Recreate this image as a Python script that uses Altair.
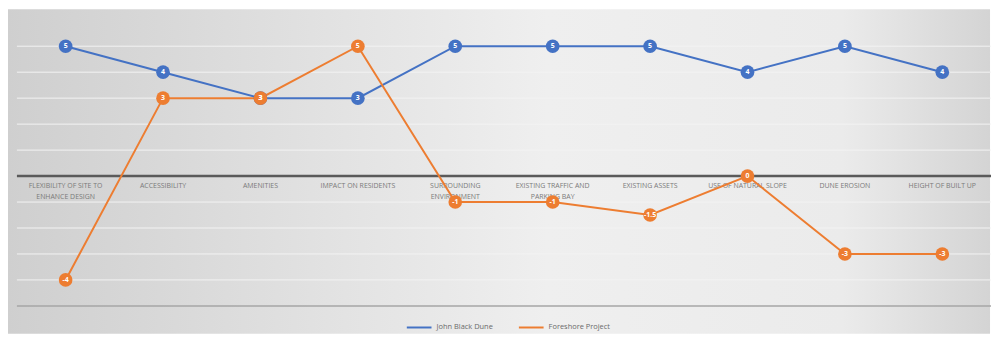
import altair as alt
import pandas as pd

categories = [
    "FLEXIBILITY OF SITE TO|ENHANCE DESIGN",
    "ACCESSIBILITY",
    "AMENITIES",
    "IMPACT ON RESIDENTS",
    "SURROUNDING|ENVIRONMENT",
    "EXISTING TRAFFIC AND|PARKING BAY",
    "EXISTING ASSETS",
    "USE OF NATURAL SLOPE",
    "DUNE EROSION",
    "HEIGHT OF BUILT UP",
]
series_names = ["John Black Dune", "Foreshore Project"]
john_black = [5, 4, 3, 3, 5, 5, 5, 4, 5, 4]
foreshore = [-4, 3, 3, 5, -1, -1, -1.5, 0, -3, -3]
colors = ["#4472c4", "#ed7d31"]
grid_ticks = [-4, -3, -2, -1, 1, 2, 3, 4, 5]

rows = []
for i, c in enumerate(categories):
    rows.append({"cat": c, "series": series_names[0], "value": john_black[i], "order": 0})
for i, c in enumerate(categories):
    rows.append({"cat": c, "series": series_names[1], "value": foreshore[i], "order": 1})
df = pd.DataFrame(rows)
df["label"] = df["value"].map(lambda v: f"{v:g}")

W, H = 982, 288
PAD_L, PAD_T, PAD_R, PAD_B = 9, 11, 1, 31
ymin, ymax = -5, 6
yscale = alt.Scale(domain=[ymin, ymax], nice=False, zero=False)
xscale = alt.Scale(type="point", padding=0.5, domain=categories)

x_enc = alt.X("cat:N", sort=categories, scale=xscale, axis=None)
y_enc = alt.Y("value:Q", scale=yscale, axis=None)
color_enc = alt.Color(
    "series:N",
    sort=series_names,
    scale=alt.Scale(domain=series_names, range=colors),
    legend=alt.Legend(
        title=None,
        orient="none",
        legendX=392,
        legendY=296,
        direction="horizontal",
        symbolType="stroke",
        symbolStrokeWidth=2,
        symbolSize=620,
        labelFontSize=7.5,
        labelColor="#6a6a6a",
        labelFont="Open Sans",
        columnPadding=22,
    ),
)

# background panel (decoration) with horizontal gradient
bg = alt.Chart(pd.DataFrame({"a": [0]})).mark_rect(
    color=alt.LinearGradient(
        gradient="linear",
        x1=0, y1=0, x2=1, y2=0,
        stops=[
            alt.GradientStop(offset=0, color="#cfcfcf"),
            alt.GradientStop(offset=0.55, color="#efefef"),
            alt.GradientStop(offset=0.85, color="#ebebeb"),
            alt.GradientStop(offset=1, color="#d4d4d4"),
        ],
    )
).encode(
    x=alt.value(-PAD_L - 1),
    x2=alt.value(W + PAD_R - 2),
    y=alt.value(-PAD_T),
    y2=alt.value(H + PAD_B - 3),
)

grid = alt.Chart(pd.DataFrame({"v": grid_ticks})).mark_rule(color="#f3f3f3", strokeWidth=1).encode(
    y=alt.Y("v:Q", scale=yscale, axis=None)
)
bottom_rule = alt.Chart(pd.DataFrame({"v": [ymin]})).mark_rule(color="#a6a6a6", strokeWidth=1.5).encode(
    y=alt.Y("v:Q", scale=yscale, axis=None)
)
zero_rule = alt.Chart(pd.DataFrame({"v": [0]})).mark_rule(color="#5a5a5a", strokeWidth=2.5).encode(
    y=alt.Y("v:Q", scale=yscale, axis=None)
)

cat_labels = alt.Chart(pd.DataFrame({"cat": categories, "v": [0] * len(categories)})).mark_text(
    fontSize=7,
    color="#7a7a7a",
    font="Open Sans",
    baseline="top",
    align="center",
    dy=6,
    lineBreak="|",
    lineHeight=11,
).encode(
    x=alt.X("cat:N", sort=categories, scale=xscale, axis=None),
    y=alt.Y("v:Q", scale=yscale, axis=None),
    text="cat:N",
)

base = alt.Chart(df).encode(x=x_enc, y=y_enc, color=color_enc, order=alt.Order("order:Q"))

lines = base.mark_line(strokeWidth=2)
points = base.mark_circle(size=190, opacity=1)
texts = base.mark_text(fontSize=7, fontWeight="bold", font="Open Sans").encode(
    text="label:N", color=alt.value("white")
)

chart = (
    alt.layer(bg, grid, bottom_rule, zero_rule, cat_labels, lines, points, texts)
    .resolve_scale(y="shared")
    .properties(
        width=W,
        height=H,
        padding={"left": PAD_L, "top": PAD_T, "right": PAD_R, "bottom": PAD_B},
        autosize=alt.AutoSizeParams(type="none"),
        background="white",
    )
    .configure_view(stroke=None)
)

chart.save("out.html", embed_options={"renderer": "svg", "actions": False})
